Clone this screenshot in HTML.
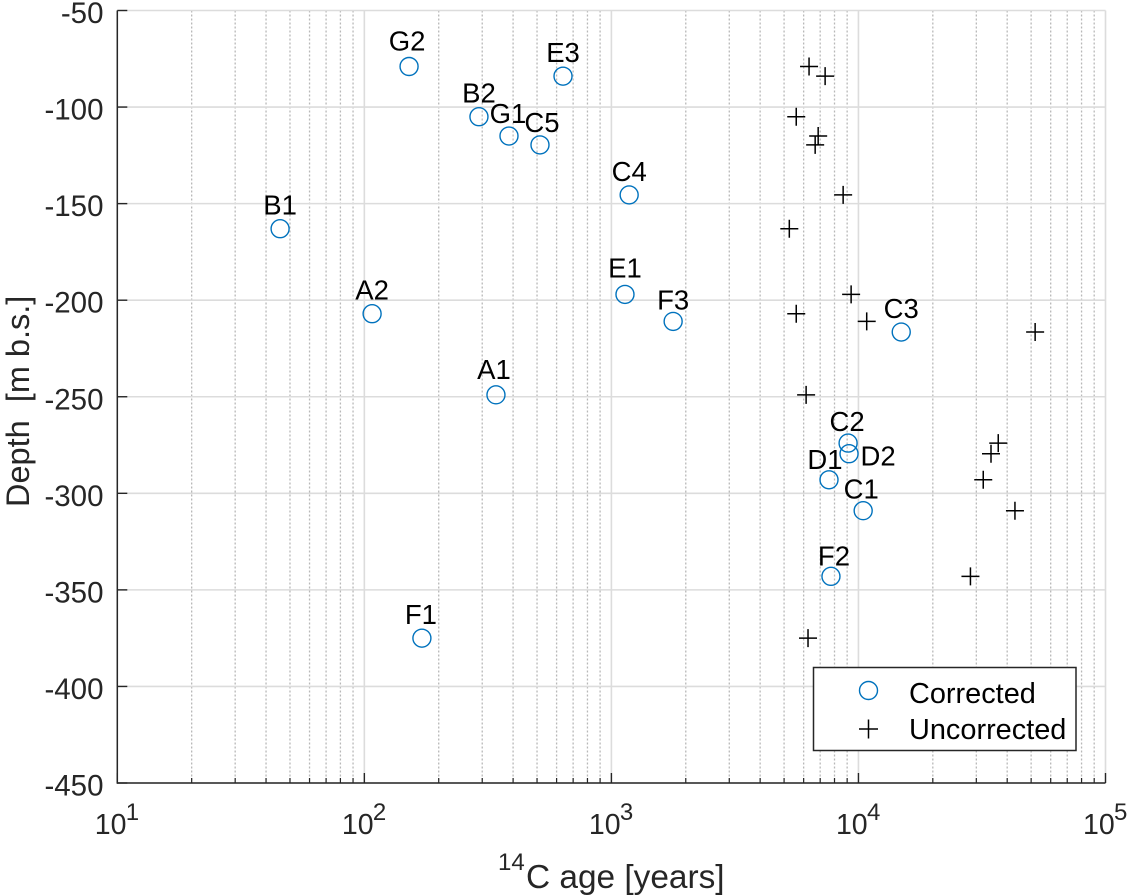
<!DOCTYPE html>
<html lang="en">
<head>
<meta charset="utf-8">
<title>14C age vs depth</title>
<style>
html,body{margin:0;padding:0;background:#fff;}
#chart{display:block;width:1128px;height:896px;font-family:"Liberation Sans",Arial,sans-serif;}
</style>
</head>
<body>
<svg id="chart" xmlns="http://www.w3.org/2000/svg" width="1128" height="896" viewBox="0 0 1128 896">
  <rect x="0" y="0" width="1128" height="896" fill="#ffffff"></rect>
  <g id="grid"></g>
  <g id="axes"></g>
  <g id="marks"></g>
  <g id="labels"></g>
  <text transform="translate(29,507) rotate(-90)" font-size="32.5" fill="#262626" xml:space="preserve">Depth&#160; [m b.s.]</text>
  <text y="888" font-size="33.4" fill="#262626"><tspan x="498" y="870" font-size="24">14</tspan><tspan x="526" y="888">C age [years]</tspan></text>
  <g>
    <rect x="813.5" y="667.5" width="262.5" height="83" fill="#ffffff" stroke="#262626" stroke-width="1.5"></rect>
    <circle cx="868.5" cy="690.5" r="9" fill="none" stroke="#0072BD" stroke-width="1.4"></circle>
    <text x="909" y="703" font-size="28.9" fill="#000">Corrected</text>
    <path d="M859 729H878M868.5 719.5V738.5" stroke="#000" stroke-width="1.5" fill="none"></path>
    <text x="909" y="739" font-size="28.9" fill="#000">Uncorrected</text>
  </g>
</svg>
<script>
const sampleNames = ["B1","A2","G2","F1","B2","A1","G1","C5","E3","E1","C4","F3","D1","F2","C2","D2","C1","C3"];
const depths = [-163,-207,-79,-375,-105,-249,-115,-119.6,-84,-197,-145.5,-211,-293,-343,-274,-279.5,-309,-216.5];
const correctedAges = [45.6,107.5,151.7,171,291,341,385,514,637,1135,1180,1778,7600,7740,9080,9160,10450,14900];
const uncorrectedAges = [5250,5600,6310,6250,5600,6140,6870,6680,7330,9340,8670,10800,32000,28400,36800,34400,43000,51900];
const yTicks = [-50,-100,-150,-200,-250,-300,-350,-400,-450];
const xTickExponents = [1,2,3,4,5];
const minorMultipliers = [2,3,4,5,6,7,8,9];

const NS = "http://www.w3.org/2000/svg";
const left = 117.3, right = 1105.5, top_ = 10.5, bottom = 783;
function xScale(v){ return left + (Math.log10(v) - 1) / 4 * (right - left); }
function yScale(v){ return top_ + (-50 - v) / 400 * (bottom - top_); }
function make(tag, parent, attrs){
  const el = document.createElementNS(NS, tag);
  for (const k in attrs) el.setAttribute(k, attrs[k]);
  parent.appendChild(el);
  return el;
}
const grid = document.getElementById("grid");
const axes = document.getElementById("axes");
const marks = document.getElementById("marks");
const labels = document.getElementById("labels");

xTickExponents.forEach(function(e, idx){
  const major = Math.pow(10, e);
  const mx = xScale(major);
  const g = make("line", grid, {x1:mx, x2:mx, y1:top_, y2:bottom, stroke:"#dcdcdc", "stroke-width":1.6});
  
  
  const t = make("line", axes, {x1:mx, x2:mx, y1:bottom, y2:bottom-10, stroke:"#262626", "stroke-width":1.4});
  
  
  const lab = make("text", axes, {x:mx-22.5, y:834, "font-size":28.5, fill:"#262626"});
  
  
  lab.textContent = "10";
  const sup = make("text", axes, {x:mx+8.5, y:820, "font-size":24, fill:"#262626"});
  
  
  sup.textContent = String(e);
  if (idx < xTickExponents.length - 1) {
    minorMultipliers.forEach(function(m){
      const px = xScale(m * major);
      const mg = make("line", grid, {x1:px, x2:px, y1:top_, y2:bottom, stroke:"#b8b8b8", "stroke-width":1.3, "stroke-dasharray":"2 2"});
      
      
      const mt = make("line", axes, {x1:px, x2:px, y1:bottom, y2:bottom-5, stroke:"#262626", "stroke-width":1.2});
      
      
    });
  }
});

yTicks.forEach(function(v){
  const py = yScale(v);
  const g = make("line", grid, {x1:left, x2:right, y1:py, y2:py, stroke:"#dcdcdc", "stroke-width":1.6});
  
  
  const t = make("line", axes, {x1:left, x2:left+10, y1:py, y2:py, stroke:"#262626", "stroke-width":1.4});
  
  
  const lab = make("text", axes, {x:103.5, y:py+12.5, "font-size":29.5, fill:"#262626", "text-anchor":"end"});
  
  
  lab.textContent = String(v);
});

const axisY = make("line", axes, {x1:left, x2:left, y1:top_, y2:bottom+0.7, stroke:"#262626", "stroke-width":1.5});


const axisX = make("line", axes, {x1:left, x2:right, y1:bottom, y2:bottom, stroke:"#262626", "stroke-width":1.5});



function labelOffset(name){
  if (name === "D2") return [29, 2];
  if (name === "F3") return [0, -22];
  if (name === "D1") return [-4, -21];
  if (name === "G2") return [-2, -26];
  if (name === "G1") return [-1, -23];
  if (name === "C5") return [2, -23];
  if (name === "A1") return [-2, -26];
  if (name === "C2") return [-1, -22];
  if (name === "F2") return [3, -21];
  if (name === "E1") return [0, -27];
  if (name === "F1") return [-1, -24];
  if (name === "C1") return [-2, -22];
  return [0, -24];
}

sampleNames.forEach(function(name, i){
  const cx = xScale(correctedAges[i]);
  const cy = yScale(depths[i]);
  const c = make("circle", marks, {cx:cx, cy:cy, r:9, fill:"none", stroke:"#0072BD", "stroke-width":1.4});
  
  
  const ux = xScale(uncorrectedAges[i]);
  const p = make("path", marks, {d:"M"+(ux-9)+" "+cy+"H"+(ux+9)+"M"+ux+" "+(cy-9)+"V"+(cy+9), stroke:"#000", "stroke-width":1.5, fill:"none"});
  
  
  const off = labelOffset(name);
  const t = make("text", labels, {x:cx+off[0], y:cy+off[1]+10, "font-size":27.5, fill:"#000", "text-anchor":"middle"});
  
  
  t.textContent = name;
});
</script>
</body>
</html>
